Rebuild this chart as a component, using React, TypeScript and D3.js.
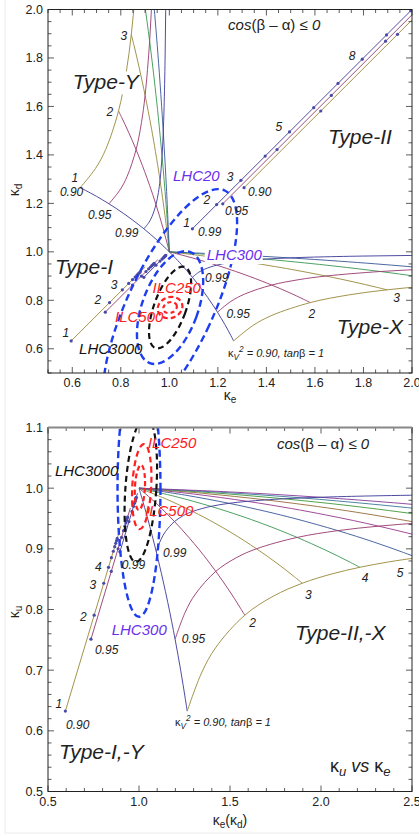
import React from "react";
import * as d3 from "d3";

type P = [number, number];

// Mathematica (v6-9) default plot colours
const palette = ["#3f3d99", "#993d71", "#998b3d", "#3d9956", "#3d5a99", "#993d8f", "#996d3d", "#43993d", "#3d7999", "#843d99"];

// constant tanβ lines (tanβ = 1..10); points along κV² = 1 → 0.90 as [κ(type-II-like), κ(type-I-like)]
const tanbValues = [1, 2, 3, 4, 5, 6, 7, 8, 9, 10];
const tanb1: P[] = [[1, 1], [1.0488, 0.9488], [1.095, 0.895], [1.1314, 0.8485], [1.1581, 0.8117], [1.1798, 0.7798], [1.1983, 0.7511], [1.2145, 0.7246], [1.229, 0.6998], [1.242, 0.6763], [1.2539, 0.6539], [1.2649, 0.6325]];
const tanb2: P[] = [[1, 1], [1.0988, 0.9738], [1.195, 0.945], [1.2728, 0.9192], [1.3313, 0.8983], [1.3798, 0.8798], [1.4219, 0.8629], [1.4594, 0.8471], [1.4935, 0.8321], [1.5249, 0.8178], [1.5539, 0.8039], [1.5811, 0.7906]];
const tanb3: P[] = [[1, 1], [1.1488, 0.9821], [1.295, 0.9617], [1.4142, 0.9428], [1.5045, 0.9272], [1.5798, 0.9131], [1.6455, 0.9001], [1.7044, 0.8879], [1.7581, 0.8762], [1.8077, 0.8649], [1.8539, 0.8539], [1.8974, 0.8433]];
const tanb4: P[] = [[1, 1], [1.1988, 0.9863], [1.395, 0.97], [1.5556, 0.9546], [1.6777, 0.9416], [1.7798, 0.9298], [1.8691, 0.9188], [1.9493, 0.9083], [2.0227, 0.8982], [2.0905, 0.8885], [2.1539, 0.8789], [2.2136, 0.8696]];
const tanb5: P[] = [[1, 1], [1.2488, 0.9888], [1.495, 0.975], [1.6971, 0.9617], [1.8509, 0.9503], [1.9798, 0.9398], [2.0927, 0.93], [2.1943, 0.9206], [2.2873, 0.9115], [2.3734, 0.9026], [2.4539, 0.8939], [2.5298, 0.8854]];
const tanb6: P[] = [[1, 1], [1.2988, 0.9904], [1.595, 0.9783], [1.8385, 0.9664], [2.0242, 0.956], [2.1798, 0.9465], [2.3163, 0.9374], [2.4392, 0.9287], [2.5519, 0.9203], [2.6562, 0.912]];
const tanb7: P[] = [[1, 1], [1.3488, 0.9916], [1.695, 0.9807], [1.9799, 0.9698], [2.1974, 0.9602], [2.3798, 0.9512], [2.54, 0.9427], [2.6842, 0.9346]];
const tanb8: P[] = [[1, 1], [1.3988, 0.9925], [1.795, 0.9825], [2.1213, 0.9723], [2.3706, 0.9632], [2.5798, 0.9548], [2.7636, 0.9467]];
const tanb9: P[] = [[1, 1], [1.4488, 0.9932], [1.895, 0.9839], [2.2627, 0.9742], [2.5438, 0.9657], [2.7798, 0.9576]];
const tanb10: P[] = [[1, 1], [1.4988, 0.9938], [1.995, 0.985], [2.4042, 0.9758], [2.717, 0.9676]];
const tanbLines = [tanb1, tanb2, tanb3, tanb4, tanb5, tanb6, tanb7, tanb8, tanb9, tanb10];

// constant κV² curves (0.99, 0.95, 0.90), tanβ from 1 upward
const kvLevels = ["0.99", "0.95", "0.90"];
const kv099: P[] = [[1.095, 0.895], [1.12, 0.915], [1.145, 0.9283], [1.195, 0.945], [1.245, 0.955], [1.295, 0.9617], [1.395, 0.97], [1.495, 0.975], [1.595, 0.9783], [1.795, 0.9825], [1.995, 0.985], [2.195, 0.9867], [2.595, 0.9888], [3.0, 0.99]];
const kv095: P[] = [[1.1983, 0.7511], [1.2542, 0.7958], [1.3101, 0.8256], [1.4219, 0.8629], [1.5337, 0.8852], [1.6455, 0.9001], [1.8691, 0.9188], [2.0927, 0.93], [2.3163, 0.9374], [2.54, 0.9427], [2.7636, 0.9467]];
const kv090: P[] = [[1.2649, 0.6325], [1.344, 0.6957], [1.423, 0.7379], [1.5811, 0.7906], [1.7393, 0.8222], [1.8974, 0.8433], [2.0555, 0.8583], [2.2136, 0.8696], [2.3717, 0.8784], [2.5298, 0.8854], [2.8461, 0.896]];
const kvCurves = [kv099, kv095, kv090];

// Type-I diagonal: κ at tanβ = 1..10 and at the end of the line
const typeIDots = [
  [0.895, 0.945, 0.9617, 0.97, 0.975, 0.9783, 0.9807, 0.9825, 0.9839, 0.985],
  [0.7511, 0.8629, 0.9001, 0.9188, 0.93, 0.9374, 0.9427, 0.9467, 0.9498, 0.9523],
  [0.6325, 0.7906, 0.8433, 0.8696, 0.8854, 0.896, 0.9035, 0.9091, 0.9135, 0.9171],
];
const typeIEnd = [0.9917, 0.9672, 0.9381];
const typeIShift = [0, -0.015, -0.037];
// Type-II diagonal: κ at tanβ = 1,2,...
const typeIIDots = [
  [1.095, 1.195, 1.295, 1.395, 1.495, 1.595, 1.695, 1.795, 1.895, 1.995],
  [1.1983, 1.4219, 1.6455, 1.8691],
  [1.2649, 1.5811, 1.8974],
];
const typeIIShift = [0, 0.022, 0.043];

const xTicksTop = [0.6, 0.8, 1.0, 1.2, 1.4, 1.6, 1.8, 2.0];
const yTicksTop = [0.6, 0.8, 1.0, 1.2, 1.4, 1.6, 1.8, 2.0];
const xTicksBot = [0.5, 1.0, 1.5, 2.0, 2.5];
const yTicksBot = [0.5, 0.6, 0.7, 0.8, 0.9, 1.0, 1.1];

const FONT = "'Liberation Sans', Arial, Helvetica, sans-serif";
const VIOLET = "#6a30ec";
const BLUE = "#1d3df0";
const RED = "#ff2020";

type Scale = d3.ScaleLinear<number, number>;

function Frame({ x, y, xMajor, xMinorStep, yMajor, yMinorStep, thickTop }: any) {
  const [x0, x1] = x.domain();
  const [y0, y1] = y.domain();
  const xm = d3.range(x0, x1 + 1e-9, xMinorStep);
  const ym = d3.range(y0, y1 + 1e-9, yMinorStep);
  const isMajor = (v: number, arr: number[]) => arr.some((a) => Math.abs(a - v) < 1e-6);
  const L = 6, S = 3.5;
  const X0 = x(x0), X1 = x(x1), Y0 = y(y0), Y1 = y(y1);
  return (
    <g stroke="#333" strokeWidth={0.8}>
      {xm.map((v: number, i: number) => {
        const l = isMajor(v, xMajor) ? L : S;
        return (
          <g key={"x" + i}>
            <line x1={x(v)} x2={x(v)} y1={Y0} y2={Y0 - l} />
            <line x1={x(v)} x2={x(v)} y1={Y1} y2={Y1 + l} />
          </g>
        );
      })}
      {ym.map((v: number, i: number) => {
        const l = isMajor(v, yMajor) ? L : S;
        return (
          <g key={"y" + i}>
            <line x1={X0} x2={X0 + l} y1={y(v)} y2={y(v)} />
            <line x1={X1} x2={X1 - l} y1={y(v)} y2={y(v)} />
          </g>
        );
      })}
      <rect x={X0} y={Y1} width={X1 - X0} height={Y0 - Y1} fill="none" stroke="#222" strokeWidth={1} />
      {thickTop && <line x1={X0} x2={X1} y1={Y1} y2={Y1} stroke="#888" strokeWidth={2} />}
      <g stroke="none" fill="#222" fontFamily={FONT} fontSize={12.5}>
        {xMajor.map((v: number) => (
          <text key={"xl" + v} x={x(v)} y={Y0 + 14} textAnchor="middle">{v.toFixed(1)}</text>
        ))}
        {yMajor.map((v: number) => (
          <text key={"yl" + v} x={X0 - 5} y={y(v) + 4.5} textAnchor="end">{v.toFixed(1)}</text>
        ))}
      </g>
    </g>
  );
}

function Lbl({ x, y, children, size = 12, color = "#222", anchor = "start", bg, italic = true }: any) {
  return (
    <g>
      {bg && <rect x={x - 2} y={y - size * 0.85} width={bg} height={size * 1.1} fill="white" />}
      <text x={x} y={y} fontFamily={FONT} fontSize={size} fill={color} textAnchor={anchor} fontStyle={italic ? "italic" : "normal"}>
        {children}
      </text>
    </g>
  );
}

function Ell({ x, y, cx, cy, rx, ry, rot, color, w, dash }: any) {
  const kx = x(1) - x(0);
  const ky = y(0) - y(1);
  const px = x(cx), py = y(cy);
  return (
    <ellipse cx={px} cy={py} rx={rx * kx} ry={ry * ky} transform={`rotate(${rot} ${px} ${py})`} fill="none" stroke={color} strokeWidth={w} strokeDasharray={dash} />
  );
}

function KV2({ x, y, size = 11 }: any) {
  return (
    <text x={x} y={y} fontFamily={FONT} fontSize={size} fill="#222">
      <tspan>κ</tspan>
      <tspan fontSize={size * 0.75} dy={3} fontStyle="italic">V</tspan>
      <tspan fontSize={size * 0.75} dy={-8} fontStyle="italic">2</tspan>
      <tspan dy={5} fontStyle="italic"> = 0.90,  tan</tspan>
      <tspan>β</tspan>
      <tspan fontStyle="italic"> = 1</tspan>
    </text>
  );
}

function Cos({ x, y }: any) {
  return (
    <text x={x} y={y} fontFamily={FONT} fontSize={15} fill="#222">
      <tspan fontStyle="italic">cos</tspan>
      <tspan>(β – α)</tspan>
      <tspan fontStyle="italic"> ≤ 0</tspan>
    </text>
  );
}

export default function App() {
  const xT: Scale = d3.scaleLinear().domain([0.5, 2.0]).range([48, 412]);
  const yT: Scale = d3.scaleLinear().domain([0.5, 2.0]).range([373, 9.5]);
  const xB: Scale = d3.scaleLinear().domain([0.5, 2.5]).range([48, 412]);
  const yB: Scale = d3.scaleLinear().domain([0.5, 1.1]).range([791.5, 427.5]);

  const gen = (x: Scale, y: Scale) =>
    d3.line<P>().x((d) => x(d[0])).y((d) => y(d[1])).curve(d3.curveCatmullRom.alpha(0.5));
  const lt = gen(xT, yT);
  const lb = gen(xB, yB);
  const swap = (pts: P[]): P[] => pts.map(([a, b]) => [b, a] as P);

  type Path = { d: string; c: string };
  const topPaths: Path[] = [];
  tanbLines.slice(0, 5).forEach((pts, i) => {
    topPaths.push({ d: lt(pts) as string, c: palette[i] });
    topPaths.push({ d: lt(swap(pts)) as string, c: palette[i] });
  });
  kvCurves.forEach((pts, i) => {
    topPaths.push({ d: lt(pts) as string, c: palette[i] });
    topPaths.push({ d: lt(swap(pts)) as string, c: palette[i] });
  });
  const topDots: P[] = [];
  typeIDots.forEach((arr, i) => {
    const s = typeIShift[i];
    topPaths.push({ d: lt([[arr[0] + s, arr[0]], [typeIEnd[i] + s, typeIEnd[i]]]) as string, c: palette[i] });
    arr.forEach((v) => topDots.push([v + s, v]));
  });
  typeIIDots.forEach((arr, i) => {
    const s = typeIIShift[i];
    topPaths.push({ d: lt([[arr[0] + s, arr[0]], [3 + s, 3]]) as string, c: palette[i] });
    arr.forEach((v) => topDots.push([v + s, v]));
  });

  const botPaths: Path[] = [];
  tanbLines.forEach((pts, i) => botPaths.push({ d: lb(pts) as string, c: palette[i] }));
  kvCurves.forEach((pts, i) => botPaths.push({ d: lb(pts) as string, c: palette[i] }));
  const botDots: P[] = [];
  typeIDots.forEach((arr, i) => {
    const s = typeIShift[i];
    botPaths.push({ d: lb([[arr[0] + s, arr[0]], [typeIEnd[i] + s, typeIEnd[i]]]) as string, c: palette[i] });
    arr.forEach((v) => botDots.push([v + s, v]));
  });

  const topNums = [
    ["8", 1.753, 1.791], ["5", 1.451, 1.498], ["3", 1.25, 1.291], ["2", 1.155, 1.196], ["1", 1.071, 1.101],
    ["3", 0.813, 1.874], ["2", 0.755, 1.56], ["1", 0.611, 1.29],
    ["3", 0.772, 0.845], ["2", 0.705, 0.783], ["1", 0.574, 0.647],
    ["2", 1.587, 0.729], ["3", 1.937, 0.791],
  ];
  const topKv = [
    ["0.90", 1.324, 1.229], ["0.95", 1.229, 1.151], ["0.99", 1.118, 1.064],
    ["0.90", 0.549, 1.232], ["0.95", 0.665, 1.134], ["0.99", 0.776, 1.06],
    ["0.99", 1.147, 0.874], ["0.95", 1.236, 0.729],
  ];
  const botNums = [
    ["4", 0.776, 0.863], ["3", 0.746, 0.834], ["2", 0.694, 0.781], ["1", 0.56, 0.638],
    ["2", 1.624, 0.771], ["3", 1.931, 0.817], ["4", 2.242, 0.845], ["5", 2.434, 0.853],
  ];
  const botKv = [
    ["0.99", 0.905, 0.867], ["0.99", 1.132, 0.887], ["0.95", 0.758, 0.727], ["0.90", 0.599, 0.603], ["0.95", 1.235, 0.745],
  ];

  return (
    <svg width={419} height={836} style={{ position: "absolute", left: 0, top: 0, background: "white" }}>
      <rect x={0} y={0} width={419} height={836} fill="white" />
      <line x1={5} x2={5} y1={0} y2={833} stroke="#ececec" />
      <line x1={5} x2={419} y1={833} y2={833} stroke="#ececec" />
      <defs>
        <clipPath id="clipT"><rect x={48} y={9.5} width={364} height={363.5} /></clipPath>
        <clipPath id="clipB"><rect x={48} y={427.5} width={364} height={364} /></clipPath>
      </defs>

      {/* ---------- top panel ---------- */}
      <g clipPath="url(#clipT)">
        {topPaths.map((p, i) => (
          <path key={i} d={p.d} fill="none" stroke={p.c} strokeWidth={1} strokeOpacity={0.92} />
        ))}
        {topDots.map((p, i) => (
          <circle key={i} cx={xT(p[0])} cy={yT(p[1])} r={1.6} fill="#4a48a8" />
        ))}
        <Ell x={xT} y={yT} cx={1.003} cy={0.77} rx={0.177} ry={0.533} rot={25} color={BLUE} w={2.4} dash="7 4" />
        <Ell x={xT} y={yT} cx={1.003} cy={0.77} rx={0.115} ry={0.244} rot={20} color={BLUE} w={2.4} dash="7 4" />
        <Ell x={xT} y={yT} cx={1.003} cy={0.77} rx={0.066} ry={0.178} rot={20} color="#111" w={2.2} dash="6 4" />
        <Ell x={xT} y={yT} cx={1.003} cy={0.77} rx={0.052} ry={0.043} rot={-20} color={RED} w={2.2} dash="5 3" />
        <Ell x={xT} y={yT} cx={1.003} cy={0.77} rx={0.029} ry={0.022} rot={-20} color={RED} w={2.2} dash="4 3" />
      </g>
      <Frame x={xT} y={yT} xMajor={xTicksTop} xMinorStep={0.05} yMajor={yTicksTop} yMinorStep={0.05} />
      <Cos x={xT(1.242)} y={yT(1.915)} />
      <Lbl x={xT(1.654)} y={yT(1.444)} size={21} bg={66}>Type-II</Lbl>
      <Lbl x={xT(0.602)} y={yT(1.671)} size={21} bg={66}>Type-Y</Lbl>
      <Lbl x={xT(0.529)} y={yT(0.907)} size={21} bg={60}>Type-I</Lbl>
      <Lbl x={xT(1.69)} y={yT(0.659)} size={21} bg={66}>Type-X</Lbl>
      {topNums.map((n, i) => (
        <Lbl key={"tn" + i} x={xT(n[1] as number)} y={yT(n[2] as number)} anchor="middle">{n[0]}</Lbl>
      ))}
      {topKv.map((n, i) => (
        <Lbl key={"tk" + i} x={xT(n[1] as number)} y={yT(n[2] as number)}>{n[0]}</Lbl>
      ))}
      <Lbl x={xT(1.015)} y={yT(1.291)} size={15} color={VIOLET}>LHC20</Lbl>
      <Lbl x={xT(1.154)} y={yT(0.965)} size={15} color={VIOLET} bg={58}>LHC300</Lbl>
      <Lbl x={xT(0.628)} y={yT(0.577)} size={15} color="#111">LHC3000</Lbl>
      <Lbl x={xT(0.931)} y={yT(0.829)} size={15} color={RED}>ILC250</Lbl>
      <Lbl x={xT(0.776)} y={yT(0.709)} size={15} color={RED}>ILC500</Lbl>
      <KV2 x={xT(1.242)} y={yT(0.564)} />
      <text x={230} y={400} fontFamily={FONT} fontSize={14} fill="#222" textAnchor="middle">
        κ<tspan fontSize={10} dy={3}>e</tspan>
      </text>
      <text transform="translate(19,190) rotate(-90)" fontFamily={FONT} fontSize={14} fill="#222" textAnchor="middle">
        κ<tspan fontSize={10} dy={3}>d</tspan>
      </text>

      {/* ---------- bottom panel ---------- */}
      <g clipPath="url(#clipB)">
        {botPaths.map((p, i) => (
          <path key={i} d={p.d} fill="none" stroke={p.c} strokeWidth={1} strokeOpacity={0.92} />
        ))}
        {botDots.map((p, i) => (
          <circle key={i} cx={xB(p[0])} cy={yB(p[1])} r={1.6} fill="#4a48a8" />
        ))}
        <Ell x={xB} y={yB} cx={1.0} cy={1.0} rx={0.118} ry={0.212} rot={0} color={BLUE} w={2.4} dash="7 4" />
        <Ell x={xB} y={yB} cx={1.01} cy={0.998} rx={0.085} ry={0.12} rot={4} color="#111" w={2.2} dash="6 4" />
        <Ell x={xB} y={yB} cx={1.015} cy={1.0025} rx={0.052} ry={0.0703} rot={3} color={RED} w={2.2} dash="6 4" />
        <Ell x={xB} y={yB} cx={1.005} cy={1.001} rx={0.0275} ry={0.037} rot={3} color={RED} w={2.2} dash="5 3" />
      </g>
      <Frame x={xB} y={yB} xMajor={xTicksBot} xMinorStep={0.1} yMajor={yTicksBot} yMinorStep={0.02} thickTop />
      <Cos x={xB(1.758)} y={yB(1.0646)} />
      <Lbl x={xB(1.857)} y={yB(0.75)} size={21}>Type-II,-X</Lbl>
      <Lbl x={xB(0.56)} y={yB(0.554)} size={21}>Type-I,-Y</Lbl>
      {botNums.map((n, i) => (
        <Lbl key={"bn" + i} x={xB(n[1] as number)} y={yB(n[2] as number)} anchor="middle">{n[0]}</Lbl>
      ))}
      {botKv.map((n, i) => (
        <Lbl key={"bk" + i} x={xB(n[1] as number)} y={yB(n[2] as number)}>{n[0]}</Lbl>
      ))}
      <Lbl x={xB(0.538)} y={yB(1.02)} size={15} color="#111">LHC3000</Lbl>
      <Lbl x={xB(1.049)} y={yB(1.066)} size={15} color={RED}>ILC250</Lbl>
      <Lbl x={xB(1.033)} y={yB(0.954)} size={15} color={RED}>ILC500</Lbl>
      <Lbl x={xB(0.85)} y={yB(0.758)} size={15} color={VIOLET}>LHC300</Lbl>
      <KV2 x={xB(1.198)} y={yB(0.608)} />
      <text x={xB(2.049)} y={yB(0.532)} fontFamily={FONT} fontSize={18} fill="#222">
        κ<tspan fontSize={13} dy={4} fontStyle="italic">u</tspan>
        <tspan dy={-4} fontStyle="italic"> vs </tspan>κ<tspan fontSize={13} dy={4} fontStyle="italic">e</tspan>
      </text>
      <text x={230} y={825} fontFamily={FONT} fontSize={14} fill="#222" textAnchor="middle">
        κ<tspan fontSize={10} dy={3}>e</tspan><tspan dy={-3}>(κ</tspan><tspan fontSize={10} dy={3}>d</tspan><tspan dy={-3}>)</tspan>
      </text>
      <text transform="translate(19,612) rotate(-90)" fontFamily={FONT} fontSize={14} fill="#222" textAnchor="middle">
        κ<tspan fontSize={10} dy={3}>u</tspan>
      </text>
    </svg>
  );
}
